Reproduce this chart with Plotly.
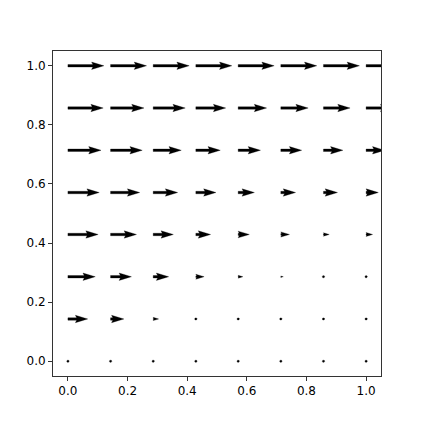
import numpy as np
import plotly.graph_objects as go

# ---- data ----
x_grid = [0.0, 0.143, 0.286, 0.429, 0.571, 0.714, 0.857, 1.0]
y_grid = [0.0, 0.143, 0.286, 0.429, 0.571, 0.714, 0.857, 1.0]

# horizontal velocity component for each row (y level), v = 0 everywhere
u_y000 = [0.00, 0.00, 0.00, 0.00, 0.00, 0.00, 0.00, 0.00]
u_y143 = [0.55, 0.37, 0.15, 0.04, 0.03, 0.03, 0.03, 0.03]
u_y286 = [0.76, 0.58, 0.43, 0.23, 0.13, 0.07, 0.03, 0.03]
u_y429 = [0.84, 0.72, 0.56, 0.41, 0.31, 0.24, 0.16, 0.18]
u_y571 = [0.87, 0.81, 0.68, 0.56, 0.45, 0.41, 0.39, 0.34]
u_y714 = [0.92, 0.88, 0.78, 0.68, 0.62, 0.58, 0.54, 0.52]
u_y857 = [0.98, 0.93, 0.89, 0.83, 0.79, 0.76, 0.74, 0.74]
u_y1000 = [1.00, 1.00, 1.00, 1.00, 1.00, 1.00, 1.00, 1.00]
u_rows = [u_y000, u_y143, u_y286, u_y429, u_y571, u_y714, u_y857, u_y1000]

tick_vals = [0.0, 0.2, 0.4, 0.6, 0.8, 1.0]
tick_text = ["0.0", "0.2", "0.4", "0.6", "0.8", "1.0"]

# ---- layout geometry (page body has an 8px margin at left/top) ----
W, H = 415, 415
ML, MR, MT, MB = 45, 42, 43, 47
XR = [-0.05, 1.05]
YR = [-0.05, 1.05]
plot_w = W - ML - MR
plot_h = H - MT - MB
pxx = plot_w / (XR[1] - XR[0])   # pixels per data unit (x)
pxy = plot_h / (YR[1] - YR[0])   # pixels per data unit (y)

# quiver styling (matplotlib-like)
shaft_w = 0.0075 * plot_w        # shaft width in px
head_w, head_l, head_al = 3.0, 5.0, 4.5
min_shaft, min_len = 1.0, 1.0
len_px_per_u = 36.0              # arrow length in px for u = 1

xs, ys = [], []
for yi, row in zip(y_grid, u_rows):
    for xi, u in zip(x_grid, row):
        L = u * len_px_per_u / shaft_w
        minsh = min_shaft * head_l
        ii = [0, 1, 2, 3, 2, 1, 0, 0]
        if L < min_len:
            th = np.arange(0, 8) * np.pi / 3.0
            X = np.cos(th) * min_len * 0.5
            Y = np.sin(th) * min_len * 0.5
        elif L < minsh:
            x0 = np.array([0, minsh - head_al, minsh - head_l, minsh])
            y0 = 0.5 * np.array([1, 1, head_w, 0])
            X = x0[ii] * (L / minsh)
            Y = y0[ii].copy()
            Y[3:-1] *= -1
            Y = Y * (L / minsh)
        else:
            x0 = np.array([0, L - head_al, L - head_l, L])
            y0 = 0.5 * np.array([1, 1, head_w, 0])
            X = x0[ii]
            Y = y0[ii].copy()
            Y[3:-1] *= -1
        xs.extend(list(xi + X * shaft_w / pxx) + [None])
        ys.extend(list(yi + Y * shaft_w / pxy) + [None])

fig = go.Figure()
fig.add_trace(go.Scatter(
    x=xs, y=ys, mode="lines", fill="toself",
    fillcolor="black", line=dict(color="black", width=0.3),
    hoverinfo="skip", showlegend=False,
))

axis_common = dict(
    showgrid=False, zeroline=False, showline=True, mirror=True,
    linecolor="#333333", linewidth=1, ticks="outside", ticklen=4,
    tickwidth=1, tickcolor="#333333",
    tickvals=tick_vals, ticktext=tick_text,
    tickfont=dict(family="DejaVu Sans", size=12, color="black"),
)
fig.update_layout(
    width=W, height=H,
    margin=dict(l=ML, r=MR, t=MT, b=MB, pad=0),
    plot_bgcolor="white", paper_bgcolor="white",
    xaxis=dict(range=XR, **axis_common),
    yaxis=dict(range=YR, **axis_common),
    showlegend=False,
)
fig.write_html("out.html")
